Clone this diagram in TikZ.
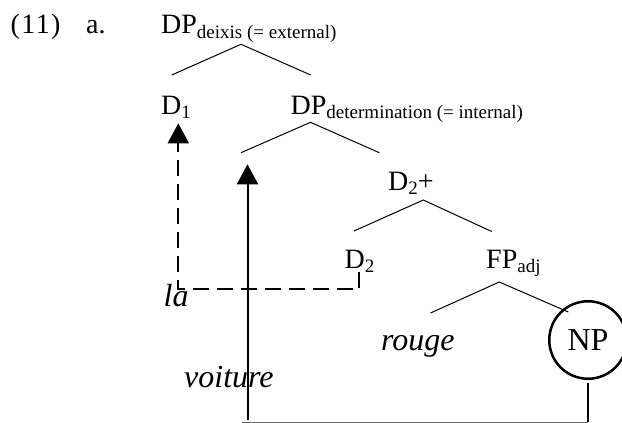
\documentclass[tikz,border=0pt]{standalone}
\usepackage{fontspec}
\setmainfont{Liberation Serif}
\usetikzlibrary{arrows.meta}
\newcommand{\sbs}[1]{\raisebox{-4.5pt}{\fontsize{19}{22}\selectfont #1}}
\begin{document}
\begin{tikzpicture}[x=1pt,y=-1pt,
  lab/.style={inner sep=0pt, anchor=base west, font=\fontsize{28}{31}\selectfont},
  itl/.style={inner sep=0pt, anchor=base west, font=\fontsize{32}{36}\selectfont\itshape},
  npnode/.style={circle, draw, line width=2.5pt, minimum size=77.5pt, inner sep=0pt, font=\fontsize{32}{36}\selectfont},
  branch/.style={line width=1pt},
  movesolid/.style={line width=2pt, -{Triangle[length=20pt,width=21pt]}},
  movedash/.style={line width=2pt, dash pattern=on 16pt off 8pt, -{Triangle[length=20pt,width=21pt]}},
  bottomline/.style={line width=1pt, black!60}]
\useasboundingbox (0,0) rectangle (622,423);

% labels
\node[lab] (ex)  at (10.5,34) {\addfontfeature{LetterSpace=5}(11)};
\node[lab] (exa) at (86,34) {a.};
\node[lab] (dp1) at (161,34) {DP\sbs{deixis (= external)}};
\node[lab] (d1)  at (161,114) {D\sbs{1}};
\node[lab] (dp2) at (290.5,114) {DP\sbs{determination (= internal)}};
\node[lab] (d2p) at (388,190) {D\sbs{2}+};
\node[lab] (d2)  at (344.5,268) {D\sbs{2}};
\node[lab] (fp)  at (486,268) {FP\sbs{adj}};
\node[itl] (la)    at (163.5,306) {la};
\node[itl] (rouge) at (381,350) {rouge};
\node[itl] (voit)  at (184,387) {voiture};
\node[npnode] (np) at (588,340) {NP};

% tree branch points
\coordinate (a1) at (241,44.3);   \coordinate (a1l) at (171.7,75);  \coordinate (a1r) at (310.7,75);
\coordinate (a2) at (310.5,122.3);\coordinate (a2l) at (241,152.7); \coordinate (a2r) at (379.3,152.7);
\coordinate (a3) at (423.3,200);  \coordinate (a3l) at (354,231);   \coordinate (a3r) at (491.7,231.5);
\coordinate (a4) at (499.3,282);  \coordinate (a4l) at (430.5,313); \coordinate (a4r) at (568.3,312);

\draw[branch] (a1l) -- (a1) -- (a1r);
\draw[branch] (a2l) -- (a2) -- (a2r);
\draw[branch] (a3l) -- (a3) -- (a3r);
\draw[branch] (a4l) -- (a4) -- (a4r);

% movement paths
\coordinate (d2foot) at (359.3,271.7);
\coordinate (d1foot) at (178.3,123.3);
\draw[movedash] (d2foot) -- ++(0,17.6) -| (d1foot);

\coordinate (npfoot) at (587.7,383.3);
\coordinate (npbot) at (587.7,422);
\coordinate (leftend) at (242,422);
\coordinate (vfoot) at (247.5,419.5);
\coordinate (vtip) at (247.5,164.3);
\draw[line width=2pt] (npfoot) -- (npbot);
\draw[bottomline] (leftend) -- (npbot);
\draw[movesolid] (vfoot) -- (vtip);
\end{tikzpicture}
\end{document}
